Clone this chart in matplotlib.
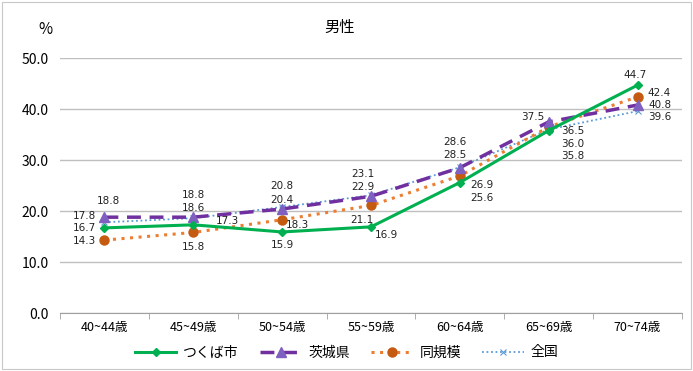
import matplotlib
matplotlib.use("Agg")
import matplotlib.pyplot as plt
from matplotlib.patches import Rectangle

plt.rcParams["font.family"] = ["Noto Sans CJK JP", "DejaVu Sans"]

categories = ["40~44歳", "45~49歳", "50~54歳", "55~59歳", "60~64歳", "65~69歳", "70~74歳"]
tsukuba = [16.7, 17.3, 15.9, 16.9, 25.6, 35.8, 44.7]
ibaraki = [18.8, 18.8, 20.4, 22.9, 28.5, 37.5, 40.8]
doukibo = [14.3, 15.8, 18.3, 21.1, 26.9, 36.5, 42.4]
zenkoku = [17.8, 18.6, 20.8, 23.1, 28.6, 36.0, 39.6]

# label offsets in pixels (dx, dy downwards)
off_tsukuba = [(-20, 0), (34, -4), (0, 13), (15, 8), (22, 15), (24, 25), (-2, -10)]
off_ibaraki = [(4, -16), (0, -22), (0, -9), (-8, -9), (-5, -13), (-16, -5), (22, 0)]
off_doukibo = [(-20, 1), (0, 15), (15, 5), (-9, 15), (22, 9), (24, 4), (22, -4)]
off_zenkoku = [(-20, -6), (0, -10), (0, -21), (-8, -21), (-5, -25), (24, 14), (22, 6)]

fig = plt.figure(figsize=(6.93, 3.71), dpi=100)
fig.patches.append(Rectangle((0.003, 0.005), 0.994, 0.99, transform=fig.transFigure,
                             fill=False, edgecolor="#c8c8c8", linewidth=0.8))
ax = fig.add_axes([0.0866, 0.1563, 0.8975, 0.687])

x = list(range(len(categories)))
ax.plot(x, zenkoku, color="#5b9bd5", linestyle=(0, (1, 1.5)), linewidth=1.3,
        marker="x", markersize=5, markeredgewidth=0.8, label="全国", zorder=3)
ax.plot(x, doukibo, color="#ed7d31", linestyle=(0, (1, 1.8)), linewidth=2.2,
        marker="o", markersize=6.5, markerfacecolor="#c55a11", markeredgecolor="#c55a11",
        label="同規模", zorder=4)
ax.plot(x, ibaraki, color="#7030a0", linestyle=(0, (4, 2.5)), linewidth=2.5,
        marker="^", markersize=6.5, markerfacecolor="#7f5fbf", markeredgecolor="#7f5fbf",
        label="茨城県", zorder=5)
ax.plot(x, tsukuba, color="#00b050", linewidth=2.2, marker="D", markersize=4,
        label="つくば市", zorder=6)

for vals, offs in [(tsukuba, off_tsukuba), (ibaraki, off_ibaraki),
                   (doukibo, off_doukibo), (zenkoku, off_zenkoku)]:
    for i, (v, (dx, dy)) in enumerate(zip(vals, offs)):
        ax.annotate(f"{v:.1f}", (i, v), xytext=(dx, -dy), textcoords="offset pixels",
                    ha="center", va="center", fontsize=7.5, family="DejaVu Sans",
                    color="#222222", zorder=7)

ax.set_xlim(-0.5, len(categories) - 0.5)
ax.set_ylim(0, 50)
ax.set_yticks([0, 10, 20, 30, 40, 50])
ax.set_yticklabels([f"{t:.1f}" for t in [0, 10, 20, 30, 40, 50]], fontsize=10)
ax.set_xticks(x)
ax.set_xticklabels(categories, fontsize=9)
ax.set_xticks([i + 0.5 for i in range(-1, len(categories))], minor=True)
ax.tick_params(axis="x", which="major", length=0, pad=6)
ax.tick_params(axis="x", which="minor", length=4, color="#a0a0a0")
ax.tick_params(axis="y", length=0, pad=8)
ax.grid(axis="y", color="#bfbfbf", linewidth=1)
ax.set_axisbelow(True)
for s in ["top", "right", "left"]:
    ax.spines[s].set_visible(False)
ax.spines["bottom"].set_color("#a0a0a0")

fig.text(0.49, 0.925, "男性", ha="center", va="center", fontsize=11)
fig.text(0.065, 0.92, "%", ha="center", va="center", fontsize=11)

handles, labels = ax.get_legend_handles_labels()
order = [3, 2, 1, 0]
fig.legend([handles[i] for i in order], [labels[i] for i in order], loc="center",
           bbox_to_anchor=(0.5, 0.05), ncol=4, frameon=False, fontsize=10,
           handlelength=3, columnspacing=1.5, handletextpad=0.5)

fig.savefig("out.png", dpi=100)
